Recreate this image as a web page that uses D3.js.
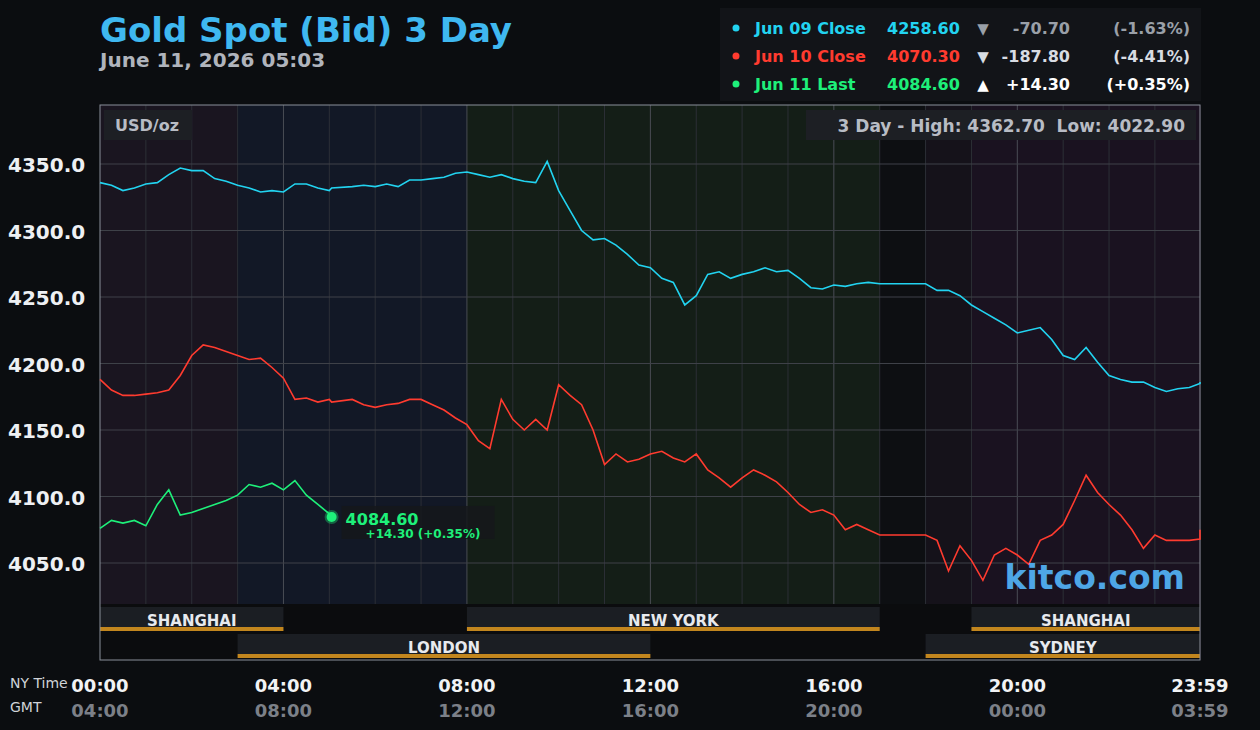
<!DOCTYPE html>
<html><head><meta charset="utf-8">
<script src="https://cdn.jsdelivr.net/npm/d3@7"></script>
<style>body{margin:0;background:#0b0d10}svg{display:block;font-family:"DejaVu Sans",sans-serif}text{white-space:pre}</style>
</head><body><svg id="c" width="1260" height="730"></svg>
<script>
// data: 15-minute samples (minutes from midnight NY time)
const step = 15;
const jun09 = [4336,4334,4330,4332,4335,4336,4342,4347,4345,4345,4339,4337,4334,4332,4329,4330,
4329,4335,4335,4332,4330,4332,4333,4334,4333,4335,4333,4338,4338,4339,4340,4343,
4344,4342,4340,4342,4339,4337,4336,4352,4330,4315,4300,4293,4294,4289,4282,4274,
4272,4264,4261,4244,4251,4267,4269,4264,4267,4269,4272,4269,4270,4264,4257,4256,
4259,4258,4260,4261,4260,4260,4260,4260,4260,4255,4255,4251,4244,4239,4234,4229,
4223,4225,4227,4218,4206,4203,4212,4201,4191,4188,4186,4186,4182,4179,4181,4182,4185,4186];
const jun10 = [4188,4180,4176,4176,4177,4178,4180,4191,4206,4214,4212,4209,4206,4203,4204,4197,
4189,4173,4174,4171,4173,4171,4173,4169,4167,4169,4170,4173,4173,4169,4165,4159,
4154,4142,4136,4173,4158,4150,4158,4150,4184,4176,4169,4150,4124,4132,4126,4128,
4132,4134,4129,4126,4132,4120,4114,4107,4114,4120,4116,4111,4103,4094,4088,4090,
4086,4075,4079,4075,4071,4071,4071,4071,4071,4067,4044,4063,4052,4037,4056,4061,
4056,4049,4067,4071,4079,4097,4116,4103,4094,4086,4075,4061,4071,4067,4067,4067,4068,4075];
const jun11 = [4076,4082,4080,4082,4078,4094,4105,4086,4088,4091,4094,4097,4101,4109,4107,4110,
4105,4112,4101,4094,4087,4084.6];
const hourTicks = ["00:00","04:00","08:00","12:00","16:00","20:00","23:59"];
const gmtTicks = ["04:00","08:00","12:00","16:00","20:00","00:00","03:59"];
const tickMinutes = [0,240,480,720,960,1200,1439];
const priceTicks = [4050,4100,4150,4200,4250,4300,4350];
const sessions = [["SHANGHAI",0,240,0],["NEW YORK",480,1020,0],["SHANGHAI",1140,1440,0],["LONDON",180,720,1],["SYDNEY",1080,1440,1]];
const legend = [["Jun 09 Close","4258.60","▼","-70.70","(-1.63%)","#22d3f0","#9aa0a8"],
 ["Jun 10 Close","4070.30","▼","-187.80","(-4.41%)","#ff3b2f","#d8dce2"],
 ["Jun 11 Last","4084.60","▲","+14.30","(+0.35%)","#1ef07a","#ffffff"]];

const svg = d3.select("#c");
const L=100,R=1200,T=105,B=660;
const x = d3.scaleLinear().domain([0,1439]).range([L,R]);
const y = d3.scaleLinear().domain([4050,4350]).range([563,164]);
const tm = (i)=>Math.min(i*step,1439);

[[0,180,"#1a1520"],[180,480,"#121826"],[480,1020,"#141e17"],[1020,1080,"#0d0f12"],[1080,1140,"#15121a"],[1140,1440,"#1a1220"]]
.forEach(b=>svg.append("rect").attr("x",x(b[0])).attr("y",T).attr("width",x(b[1])-x(b[0])).attr("height",B-T).attr("fill",b[2]));
for(let h=1;h<24;h++) svg.append("line").attr("x1",x(h*60)).attr("x2",x(h*60)).attr("y1",T).attr("y2",604)
  .attr("stroke",h%4==0?"#4a4d55":"#2c2f36").attr("stroke-width",1);
priceTicks.forEach(p=>svg.append("line").attr("x1",L).attr("x2",R).attr("y1",y(p)).attr("y2",y(p)).attr("stroke","#3e4148"));
svg.append("rect").attr("x",L).attr("y",604).attr("width",R-L).attr("height",B-604).attr("fill","#0b0c0e");
sessions.forEach(s=>{
  const yy = s[3]?634:607;
  const x1=x(s[1]), x2=x(Math.min(s[2],1439));
  svg.append("rect").attr("x",x1).attr("y",yy).attr("width",x2-x1).attr("height",20).attr("fill","#1b1e23");
  svg.append("rect").attr("x",x1).attr("y",yy+20).attr("width",x2-x1).attr("height",4).attr("fill","#c2861e");
  svg.append("text").attr("x",(x1+x2)/2).attr("y",yy+19).attr("text-anchor","middle")
    .attr("fill","#e8eaee").attr("font-size",15).attr("font-weight","bold").text(s[0]);
});
svg.append("rect").attr("x",L).attr("y",T).attr("width",R-L).attr("height",B-T).attr("fill","none").attr("stroke","#8a8f99");

const line = d3.line().x((d,i)=>x(i==21?303:tm(i))).y(d=>y(d));
svg.append("path").datum(jun09).attr("d",line).attr("fill","none").attr("stroke","#22d3f0").attr("stroke-width",1.6);
svg.append("path").datum(jun10).attr("d",line).attr("fill","none").attr("stroke","#ff3b2f").attr("stroke-width",1.6);
svg.append("path").datum(jun11).attr("d",line).attr("fill","none").attr("stroke","#1ef07a").attr("stroke-width",1.6);
const lx=x(303), ly=y(4084.6);
svg.append("circle").attr("cx",lx).attr("cy",ly).attr("r",7).attr("fill","#1ef07a").attr("opacity",0.35);
svg.append("circle").attr("cx",lx).attr("cy",ly).attr("r",5).attr("fill","#1ef07a");
svg.append("rect").attr("x",lx+10).attr("y",ly-11).attr("width",153).attr("height",33).attr("fill","#15171b").attr("opacity",0.85);
svg.append("text").attr("x",lx+14).attr("y",ly+8).attr("fill","#1ef07a").attr("font-size",16).attr("font-weight","bold").text("4084.60");
svg.append("text").attr("x",lx+34).attr("y",ly+21).attr("fill","#1ef07a").attr("font-size",12).attr("font-weight","bold").text("+14.30 (+0.35%)");

priceTicks.forEach(p=>svg.append("text").attr("x",8).attr("y",y(p)+8).attr("fill","#eef0f3").attr("font-size",20).attr("font-weight","bold").text(p.toFixed(1)));
svg.append("rect").attr("x",104).attr("y",110).attr("width",88).attr("height",30).attr("fill","#1d1f24");
svg.append("text").attr("x",115).attr("y",131).attr("fill","#b8bcc4").attr("font-size",16).attr("font-weight","bold").text("USD/oz");
svg.append("rect").attr("x",806).attr("y",110).attr("width",390).attr("height",30).attr("fill","#1d1f24");
svg.append("text").attr("x",1185).attr("y",132).attr("text-anchor","end").attr("fill","#b8bcc4").attr("font-size",17).attr("font-weight","bold").text("3 Day - High: 4362.70  Low: 4022.90");
svg.append("text").attr("x",1185).attr("y",589).attr("text-anchor","end").attr("fill","#4ea6e6").attr("font-size",33).attr("font-weight","bold").text("kitco.com");

svg.append("text").attr("x",10).attr("y",688).attr("fill","#d0d3d8").attr("font-size",14).text("NY Time");
svg.append("text").attr("x",10).attr("y",712).attr("fill","#d0d3d8").attr("font-size",14).text("GMT");
tickMinutes.forEach((m,i)=>{
  const xx = i==6?1200:x(m);
  svg.append("text").attr("x",xx).attr("y",692).attr("text-anchor","middle").attr("fill","#f2f3f5").attr("font-size",18).attr("font-weight","bold").text(hourTicks[i]);
  svg.append("text").attr("x",xx).attr("y",717).attr("text-anchor","middle").attr("fill","#7c8088").attr("font-size",18).attr("font-weight","bold").text(gmtTicks[i]);
});

svg.append("text").attr("x",100).attr("y",42).attr("fill","#3fb8f0").attr("font-size",34).attr("font-weight","bold").text("Gold Spot (Bid) 3 Day");
svg.append("text").attr("x",100).attr("y",67).attr("fill","#b0b4bc").attr("font-size",20).attr("font-weight","bold").text("June 11, 2026 05:03");
svg.append("rect").attr("x",720).attr("y",8).attr("width",481).attr("height",93).attr("fill","#121418");
legend.forEach((r,i)=>{
  const yy=34+i*28;
  svg.append("circle").attr("cx",736).attr("cy",yy-6).attr("r",3.5).attr("fill",r[5]);
  svg.append("text").attr("x",755).attr("y",yy).attr("fill",r[5]).attr("font-size",16).attr("font-weight","bold").text(r[0]);
  svg.append("text").attr("x",887).attr("y",yy).attr("fill",r[5]).attr("font-size",16).attr("font-weight","bold").text(r[1]);
  svg.append("text").attr("x",983).attr("y",yy).attr("text-anchor","middle").attr("fill",r[6]).attr("font-size",15).attr("font-weight","bold").text(r[2]);
  svg.append("text").attr("x",1070).attr("y",yy).attr("text-anchor","end").attr("fill",r[6]).attr("font-size",16).attr("font-weight","bold").text(r[3]);
  svg.append("text").attr("x",1190).attr("y",yy).attr("text-anchor","end").attr("fill",r[6]).attr("font-size",16).attr("font-weight","bold").text(r[4]);
});
</script></body></html>
